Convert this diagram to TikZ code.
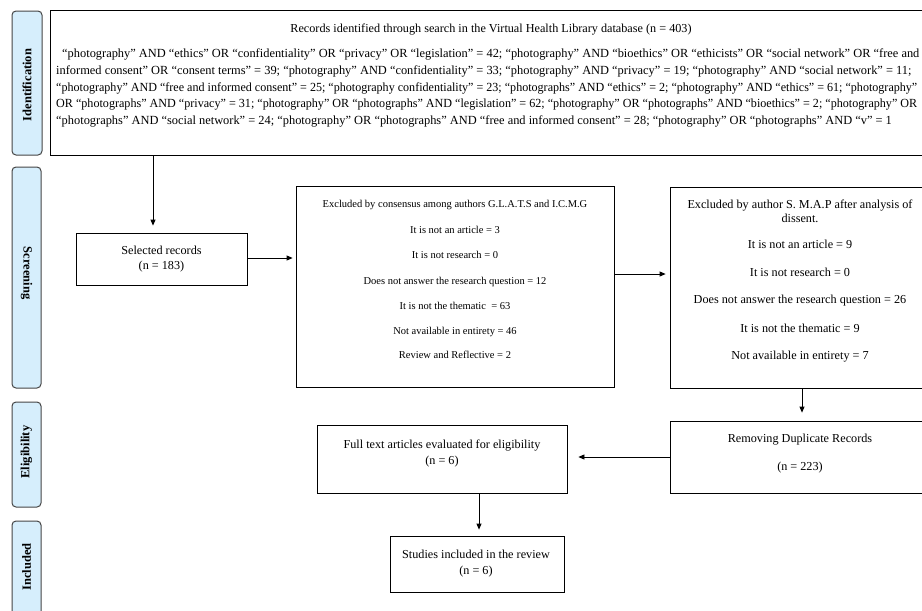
\documentclass[tikz,border=0pt]{standalone}
\usepackage{fontspec}
\setmainfont{Liberation Serif}
\usetikzlibrary{arrows.meta}
\definecolor{sideblue}{RGB}{214,238,252}
\definecolor{sideedge}{RGB}{70,70,70}
\begin{document}
\begin{tikzpicture}[x=1pt,y=-1pt,
  side/.style={draw=sideedge, fill=sideblue, rounded corners=4pt, line width=1pt},
  sidelabel/.style={rotate=90, font=\fontsize{12.5}{14}\selectfont\bfseries, inner sep=0pt},
  box/.style={draw=black, line width=0.8pt, inner sep=0pt},
  arr/.style={-{Triangle[length=6pt,width=5pt]}, line width=0.8pt},
  srch/.style={anchor=base west, inner sep=0pt, font=\fontsize{12.4}{14}\selectfont},
  txt/.style={anchor=base, inner sep=0pt},
  ta/.style={txt, font=\fontsize{10.5}{12}\selectfont},
  tb/.style={txt, font=\fontsize{12.2}{14}\selectfont}
]
\useasboundingbox (0,0) rectangle (922,611);
\clip (0,0) rectangle (922,611);
\fill[white] (0,0) rectangle (922,611);

% side labels
\draw[side] (12,11) rectangle (42,155);
\node[sidelabel] (lid) at (27,85) {Identification};
\draw[side] (12,167) rectangle (41,388);
\node[sidelabel, rotate=180] (lsc) at (26.5,273) {Screening};
\draw[side] (12,402) rectangle (41,507);
\node[sidelabel] (lel) at (26.5,452) {Eligibility};
\draw[side] (12,521) rectangle (41,625);
\node[sidelabel] (lin) at (26.5,567) {Included};

% boxes
\node[box, minimum width=885pt, minimum height=145pt] (ident) at (492.5,82.5) {};
\node[box, minimum width=171pt, minimum height=52pt] (sel) at (161.5,259) {};
\node[box, minimum width=318pt, minimum height=201pt] (ex1) at (455,286.5) {};
\node[box, minimum width=262pt, minimum height=201pt] (ex2) at (801,287.5) {};
\node[box, minimum width=262pt, minimum height=72pt] (dup) at (801,457) {};
\node[box, minimum width=250pt, minimum height=68pt] (full) at (442,459) {};
\node[box, minimum width=174pt, minimum height=56pt] (stud) at (477,564) {};

% identification texts
\node[tb] (t0) at (491,32) {Records identified through search in the Virtual Health Library database (n = 403)};
\node[srch] (s1) at (62,57.5) {“photography” AND “ethics” OR “confidentiality” OR “privacy” OR “legislation” = 42; “photography” AND “bioethics” OR “ethicists” OR “social network” OR “free and};
\node[srch] (s2) at (56,74.5) {informed consent” OR “consent terms” = 39; “photography” AND “confidentiality” = 33; “photography” AND “privacy” = 19; “photography” AND “social network” = 11;};
\node[srch] (s3) at (56,91) {\resizebox{861pt}{\height}{“photography” AND “free and informed consent” = 25; “photography confidentiality” = 23; “photographs” AND “ethics” = 2; “photography” AND “ethics” = 61; “photography”}};
\node[srch] (s4) at (56,107.5) {\resizebox{861pt}{\height}{OR “photographs” AND “privacy” = 31; “photography” OR “photographs” AND “legislation” = 62; “photography” OR “photographs” AND “bioethics” = 2; “photography” OR}};
\node[srch] (s5) at (56,124.5) {“photographs” AND “social network” = 24; “photography” OR “photographs” AND “free and informed consent” = 28; “photography” OR “photographs” AND “v” = 1};

% selected
\node[tb] (sa) at (161.5,254) {Selected records};
\node[tb] (sb) at (161.5,269) {(n = 183)};

% excluded 1
\node[ta] (e10) at (455,207) {Excluded by consensus among authors G.L.A.T.S and I.C.M.G};
\node[ta] (e11) at (455,233) {It is not an article = 3};
\node[ta] (e12) at (455,258) {It is not research = 0};
\node[ta] (e13) at (455,284) {Does not answer the research question = 12};
\node[ta] (e14) at (455,309) {It is not the thematic \ = 63};
\node[ta] (e15) at (455,334) {Not available in entirety = 46};
\node[ta] (e16) at (455,358) {Review and Reflective = 2};

% excluded 2
\node[tb] (e20) at (800,208) {Excluded by author S. M.A.P after analysis of};
\node[tb] (e20b) at (800,222) {dissent.};
\node[tb] (e21) at (800,248) {It is not an article = 9};
\node[tb] (e22) at (800,276) {It is not research = 0};
\node[tb] (e23) at (800,303) {Does not answer the research question = 26};
\node[tb] (e24) at (800,332) {It is not the thematic = 9};
\node[tb] (e25) at (800,359) {Not available in entirety = 7};

% duplicates
\node[tb] (d1) at (800,442) {Removing Duplicate Records};
\node[tb] (d2) at (800,470) {(n = 223)};

% full text
\node[tb] (f1) at (442,448) {Full text articles evaluated for eligibility};
\node[tb] (f2) at (442,464) {(n = 6)};

% studies
\node[tb] (st1) at (476,558) {Studies included in the review};
\node[tb] (st2) at (476,574) {(n = 6)};

% connectors
\draw[arr] (ident.south -| 153,0) -- ([yshift=7pt]sel.north -| 153,0);
\draw[arr] (sel.east |- 0,258) -- ([xshift=-3pt]ex1.west |- 0,258);
\draw[arr] (ex1.east |- 0,274) -- ([xshift=-4pt]ex2.west |- 0,274);
\draw[arr] (ex2.south -| 802,0) -- ([yshift=8pt]dup.north -| 802,0);
\draw[arr] (dup.west |- 0,457) -- ([xshift=11pt]full.east |- 0,457);
\draw[arr] (full.south -| 479,0) -- ([yshift=6pt]stud.north -| 479,0);
\end{tikzpicture}
\end{document}
